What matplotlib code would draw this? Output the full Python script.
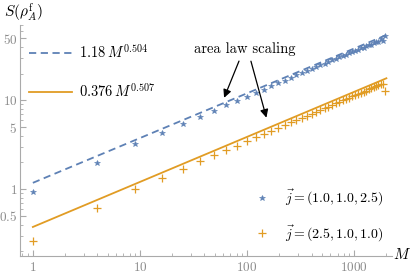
import numpy as np
import matplotlib.pyplot as plt
from matplotlib.lines import Line2D

plt.rcParams['mathtext.fontset'] = 'cm'
plt.rcParams['font.family'] = ['cmr10', 'DejaVu Serif']
plt.rcParams['axes.formatter.use_mathtext'] = True

# data: M = n^2
n_vals = list(range(1, 45))
M = [n * n for n in n_vals]

S_blue = [0.92, 1.97, 3.2, 4.26, 5.39, 6.53, 7.63, 8.8, 9.9, 11.0,
          12.2, 13.2, 14.5, 15.6, 16.7, 17.9, 19.2, 20.1, 21.4, 22.4,
          23.7, 24.9, 25.7, 27.1, 28.2, 29.1, 30.5, 31.6, 32.4, 33.9,
          35.1, 35.8, 37.3, 38.5, 39.2, 40.8, 41.9, 42.1, 44.2, 45.8,
          45.5, 48.6, 47.2, 52.5]
S_orange = [0.26, 0.62, 1.0, 1.35, 1.71, 2.06, 2.40, 2.75, 3.10, 3.46,
            3.85, 4.2, 4.56, 4.92, 5.28, 5.64, 6.0, 6.36, 6.72, 7.08,
            7.44, 7.8, 8.16, 8.53, 8.89, 9.25, 9.62, 9.98, 10.34, 10.71,
            11.07, 11.44, 11.8, 12.17, 12.54, 12.9, 13.27, 13.63, 14.0, 14.36,
            14.73, 15.1, 15.47, 12.6]

# fits
fit_blue = (1.18, 0.504)
fit_orange = (0.376, 0.507)

blue = '#5E81B5'
orange = '#E19C24'
gray = '#aaaaaa'

fig = plt.figure(figsize=(4.15, 2.78), dpi=100)
ax = fig.add_axes([0.048, 0.079, 0.897, 0.83])

Mf = np.logspace(0, np.log10(2000), 200)
ax.plot(Mf, fit_blue[0] * Mf ** fit_blue[1], '--', color=blue, lw=1.3, dashes=(4, 2.5))
ax.plot(Mf, fit_orange[0] * Mf ** fit_orange[1], '-', color=orange, lw=1.3)
ax.plot(M, S_blue, '*', color=blue, ms=4, mew=0.4, ls='none')
ax.plot(M, S_orange, '+', color=orange, ms=6, mew=0.9, ls='none')

ax.set_xscale('log')
ax.set_yscale('log')
ax.set_xlim(0.757, 2265)
ax.set_ylim(0.177, 70)

for s in ['top', 'right']:
    ax.spines[s].set_visible(False)
for s in ['left', 'bottom']:
    ax.spines[s].set_color(gray)
    ax.spines[s].set_linewidth(0.8)

ax.set_xticks([1, 10, 100, 1000])
ax.set_xticklabels(['$1$', '$10$', '$100$', '$1000$'])
ax.set_yticks([0.5, 1, 5, 10, 50])
ax.set_yticklabels(['$0.5$', '$1$', '$5$', '$10$', '$50$'])
ax.tick_params(which='both', direction='in', colors=gray, labelcolor='#8a8a8a',
               labelsize=9.5)
ax.tick_params(which='major', length=4)
ax.tick_params(which='minor', length=2)
ax.tick_params(axis='y', pad=2)

fig.text(0.948, 0.085, '$M$', fontsize=11, ha='left', va='center')
fig.text(0.01, 0.955, r'$S(\rho_A^{\mathrm{f}})$', fontsize=11, ha='left', va='center')

# top-left legend (fits)
h1 = [Line2D([], [], color=blue, ls='--', lw=1.3, dashes=(4, 2.5)),
      Line2D([], [], color=orange, ls='-', lw=1.3)]
leg1 = ax.legend(h1, [r'$1.18\,M^{0.504}$', r'$0.376\,M^{0.507}$'],
                 loc='upper left', bbox_to_anchor=(-0.01, 0.98), frameon=False,
                 fontsize=10.5, handlelength=2.9, labelspacing=1.45, handletextpad=0.5)
ax.add_artist(leg1)

# bottom-right legend (data)
h2 = [Line2D([], [], color=blue, marker='*', ls='none', ms=4, mew=0.4),
      Line2D([], [], color=orange, marker='+', ls='none', ms=6, mew=0.9)]
ax.legend(h2, [r'$\vec{j}=(1.0, 1.0, 2.5)$', r'$\vec{j}=(2.5, 1.0, 1.0)$'],
          loc='lower right', bbox_to_anchor=(1.01, 0.0), frameon=False,
          fontsize=10, handlelength=1.5, labelspacing=1.1, handletextpad=0.9)

# annotation
ax.text(96, 37.4, 'area law scaling', ha='center', va='center', fontsize=10.5)
ax.annotate('', xy=(59.7, 10.0), xytext=(86, 29.6),
            arrowprops=dict(arrowstyle='-|>', color='black', lw=0.9, mutation_scale=12))
ax.annotate('', xy=(154, 5.96), xytext=(107, 29.6),
            arrowprops=dict(arrowstyle='-|>', color='black', lw=0.9, mutation_scale=12))

fig.savefig('out.png', dpi=100)
